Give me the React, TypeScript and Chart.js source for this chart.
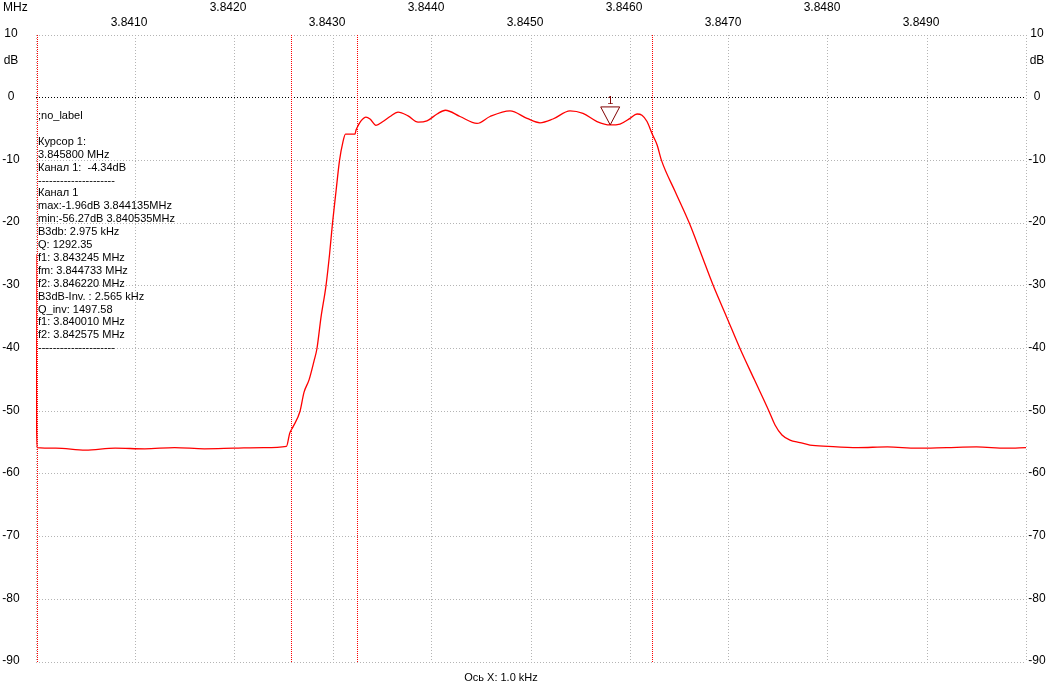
import { useEffect, useRef } from "react"
import { Chart, registerables } from "chart.js"

Chart.register(...registerables)

// frequency (MHz) and level (dB) of the trace
const freqs = [
  3.84, 3.840005, 3.84001, 3.8402, 3.8405, 3.8408, 3.8411, 3.8414, 3.8417, 3.842, 3.8423, 3.84253,
  3.842563, 3.842596, 3.842667, 3.842707, 3.842758, 3.842808, 3.842838, 3.842879,
  3.842929, 3.842965, 3.842995, 3.84303, 3.843066, 3.843101, 3.843126, 3.843152, 3.843222,
  3.843232, 3.843252, 3.843283, 3.843333, 3.843374, 3.843434,
  3.843505, 3.843576, 3.843657, 3.843758, 3.843859, 3.843949, 3.844051, 3.844135, 3.844283,
  3.844455, 3.844586, 3.844788, 3.84496, 3.845091, 3.845222, 3.845394, 3.845525, 3.845667,
  3.8458, 3.845899, 3.846, 3.846071, 3.846121, 3.846172, 3.846222, 3.846273, 3.846318,
  3.846457, 3.846599, 3.846721, 3.846842, 3.846977, 3.847111, 3.847257, 3.847404,
  3.847465, 3.847535, 3.847616, 3.847717, 3.847818, 3.848, 3.8483, 3.8486, 3.8489, 3.8492,
  3.8495, 3.8498, 3.85,
]
const levels = [
  -25.0, -50.0, -55.8, -55.9, -56.2, -55.9, -56.0, -55.8, -56.0, -55.9, -55.8, -55.6,
  -53.5, -52.5, -50.0, -47.0, -45.0, -42.0, -40.0, -35.0,
  -30.0, -25.0, -20.0, -15.0, -10.0, -7.0, -5.8, -5.8, -5.8,
  -5.2, -4.5, -3.7, -3.1, -3.4, -4.4,
  -3.8, -3.0, -2.3, -2.9, -3.9, -3.7, -2.6, -2.0, -3.0,
  -4.1, -3.0, -2.1, -3.3, -4.0, -3.4, -2.1, -2.5, -3.8,
  -4.34, -4.2, -3.3, -2.6, -2.8, -3.8, -5.7, -7.5, -10.0,
  -15.0, -20.0, -25.0, -30.0, -35.0, -40.0, -45.0, -50.0,
  -52.2, -53.8, -54.6, -55.0, -55.4, -55.6, -55.8, -55.7, -55.9, -55.8,
  -55.7, -55.9, -55.8,
]

const xTicks = [3.84, 3.841, 3.842, 3.843, 3.844, 3.845, 3.846, 3.847, 3.848, 3.849, 3.85]
const yTicks = [-90, -80, -70, -60, -50, -40, -30, -20, -10, 0, 10]

// red dotted cursor lines (Q_inv f1, Q_inv f2, f1, f2)
const cursorFreqs = [3.84001, 3.842575, 3.843245, 3.84622]
const marker = { freq: 3.8458, level: -4.34, label: "1" }

const infoLines = [
  ";no_label",
  "",
  "Курсор 1:",
  "3.845800 MHz",
  "Канал 1:  -4.34dB",
  "---------------------",
  "Канал 1",
  "max:-1.96dB 3.844135MHz",
  "min:-56.27dB 3.840535MHz",
  "B3db: 2.975 kHz",
  "Q: 1292.35",
  "f1: 3.843245 MHz",
  "fm: 3.844733 MHz",
  "f2: 3.846220 MHz",
  "B3dB-Inv. : 2.565 kHz",
  "Q_inv: 1497.58",
  "f1: 3.840010 MHz",
  "f2: 3.842575 MHz",
  "---------------------",
]

const FONT = "Liberation Sans, Arial, sans-serif"

const overlay = {
  id: "overlay",
  beforeDatasetsDraw(chart: any) {
    const { ctx, chartArea, scales } = chart
    ctx.save()
    ctx.fillStyle = "#ff0000"
    cursorFreqs.forEach((f) => {
      const x = Math.round(scales.x.getPixelForValue(f))
      for (let y = Math.round(chartArea.top); y <= chartArea.bottom; y += 2) {
        ctx.fillRect(x, y, 1, 1)
      }
    })
    ctx.restore()
  },
  afterDraw(chart: any) {
    const { ctx, scales } = chart
    const xs = scales.x
    const ys = scales.y
    ctx.save()
    ctx.fillStyle = "#000"
    ctx.font = `12px ${FONT}`
    ctx.textBaseline = "middle"

    // top frequency labels, staggered
    ctx.textAlign = "center"
    xTicks.forEach((v, i) => {
      if (i === 0 || i === xTicks.length - 1) return
      const x = xs.getPixelForValue(v) - 6
      ctx.fillText(v.toFixed(4), x, i % 2 === 1 ? 23 : 8)
    })
    ctx.textAlign = "left"
    ctx.fillText("MHz", 3, 8)

    // level labels on both sides
    ctx.textAlign = "center"
    yTicks.forEach((v) => {
      const y = ys.getPixelForValue(v) - 1
      ctx.fillText(String(v), 11, y)
      ctx.fillText(String(v), 1037, y)
    })
    ctx.fillText("dB", 11, 61)
    ctx.fillText("dB", 1037, 61)

    // bottom caption
    ctx.font = `11px ${FONT}`
    ctx.fillText("Ось X: 1.0 kHz", 501, 678)

    // info block
    ctx.textAlign = "left"
    infoLines.forEach((t, i) => {
      ctx.fillText(t, 38, 116 + i * 12.9)
    })

    // cursor marker
    const mx = xs.getPixelForValue(marker.freq)
    const my = ys.getPixelForValue(marker.level)
    ctx.strokeStyle = "#800000"
    ctx.lineWidth = 1
    ctx.beginPath()
    ctx.moveTo(mx, my)
    ctx.lineTo(mx - 9.5, my - 18)
    ctx.lineTo(mx + 9.5, my - 18)
    ctx.closePath()
    ctx.stroke()
    ctx.fillStyle = "#800000"
    ctx.textAlign = "center"
    ctx.fillText(marker.label, mx, my - 24)
    ctx.restore()
  },
}

export default function App() {
  const canvasRef = useRef<HTMLCanvasElement | null>(null)
  const chartRef = useRef<Chart | null>(null)

  useEffect(() => {
    document.body.style.margin = "0"
    if (!canvasRef.current) return
    if (chartRef.current) chartRef.current.destroy()
    const ctx = canvasRef.current.getContext("2d")
    if (!ctx) return

    chartRef.current = new Chart(ctx, {
      type: "line",
      data: {
        datasets: [
          {
            data: freqs.map((f, i) => ({ x: f, y: levels[i] })),
            borderColor: "#ff0000",
            borderWidth: 1.3,
            pointRadius: 0,
            cubicInterpolationMode: "monotone",
            fill: false,
          },
        ],
      },
      options: {
        animation: false,
        responsive: false,
        maintainAspectRatio: false,
        layout: { padding: { left: 36, top: 35, right: 34, bottom: 35 } },
        plugins: { legend: { display: false }, tooltip: { enabled: false } },
        scales: {
          x: {
            type: "linear",
            min: 3.84,
            max: 3.85,
            afterBuildTicks: (scale: any) => {
              scale.ticks = xTicks.map((v) => ({ value: v }))
            },
            ticks: { display: false },
            grid: { color: "#b4b4b4", drawTicks: false, lineWidth: 1 },
            border: { display: false, dash: [1, 2] },
          },
          y: {
            min: -90,
            max: 10,
            afterBuildTicks: (scale: any) => {
              scale.ticks = yTicks.map((v) => ({ value: v }))
            },
            ticks: { display: false },
            grid: {
              color: (c: any) => (c.tick && c.tick.value === 0 ? "#000000" : "#b4b4b4"),
              drawTicks: false,
              lineWidth: 1,
            },
            border: { display: false, dash: [1, 2] },
          },
        },
      },
      plugins: [overlay],
    })

    return () => {
      if (chartRef.current) {
        chartRef.current.destroy()
        chartRef.current = null
      }
    }
  }, [])

  return <canvas ref={canvasRef} width={1060} height={697} style={{ display: "block" }} />
}
